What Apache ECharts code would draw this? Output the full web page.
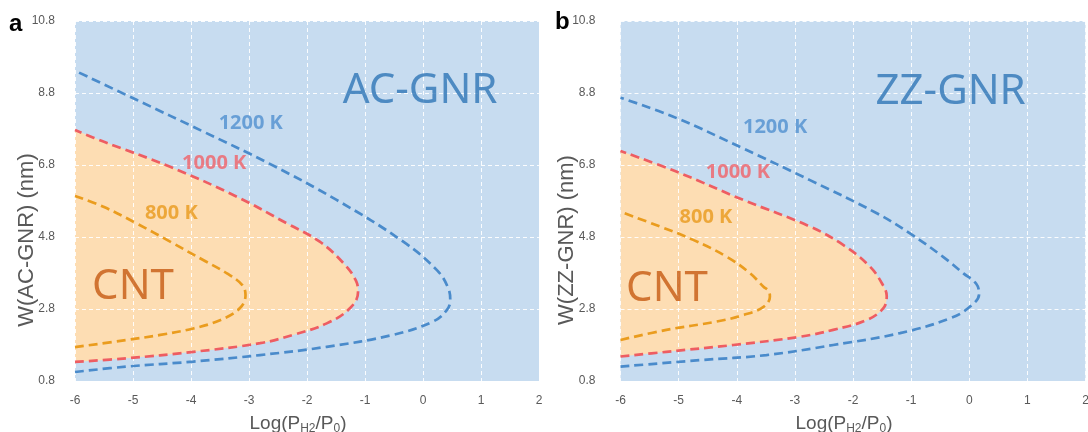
<!DOCTYPE html>
<html><head><meta charset="utf-8">
<script src="https://cdn.jsdelivr.net/npm/echarts@6/dist/echarts.min.js"></script>
<style>html,body{margin:0;padding:0;background:#fff}#c{width:1088px;height:432px}</style>
</head><body><div id="c"></div>
<script>
// ---- axis ticks ----
const xTicks = [-6, -5, -4, -3, -2, -1, 0, 1, 2];
const yTicks = [0.8, 2.8, 4.8, 6.8, 8.8, 10.8];
const tempLabels = ['800 K', '1000 K', '1200 K'];
const panelNames = ['AC-GNR', 'ZZ-GNR'];
const yTitles = ['W(AC-GNR) (nm)', 'W(ZZ-GNR) (nm)'];

// ---- panel a (AC-GNR): [logP, W] ; branches run from x=-6 to the tip ----
const ac800Lower  = [[-6, 1.74], [-5.11, 1.94], [-4.53, 2.08], [-3.96, 2.26], [-3.5, 2.49], [-3.16, 2.82], [-3.06, 3.19]];
const ac800Upper  = [[-6, 5.94], [-5.51, 5.64], [-4.94, 5.18], [-4.36, 4.67], [-3.79, 4.16], [-3.38, 3.79], [-3.12, 3.47], [-3.06, 3.19]];
const ac1000Lower = [[-6, 1.33], [-5.11, 1.43], [-3.96, 1.61], [-2.81, 1.85], [-2.24, 2.08], [-1.66, 2.40], [-1.26, 2.82], [-1.12, 3.27]];
const ac1000Upper = [[-6, 7.77], [-5.51, 7.45], [-4.36, 6.75], [-3.21, 5.92], [-2.35, 5.18], [-1.78, 4.67], [-1.37, 4.07], [-1.16, 3.6], [-1.12, 3.27]];
const ac1200Lower = [[-6, 1.05], [-5.11, 1.20], [-3.96, 1.34], [-2.81, 1.52], [-1.66, 1.75], [-0.52, 2.08], [0.17, 2.45], [0.41, 2.77], [0.47, 3.05]];
const ac1200Upper = [[-6, 9.42], [-4.94, 8.61], [-3.79, 7.73], [-2.64, 6.83], [-1.49, 5.83], [-0.34, 4.67], [0.24, 3.88], [0.43, 3.40], [0.47, 3.05]];

// ---- panel b (ZZ-GNR) ----
const zz800Lower  = [[-6, 1.94], [-5.21, 2.22], [-4.35, 2.45], [-3.89, 2.63], [-3.54, 2.86], [-3.43, 3.14]];
const zz800Upper  = [[-6, 5.50], [-5.32, 5.09], [-4.75, 4.72], [-4.17, 4.25], [-3.77, 3.79], [-3.54, 3.42], [-3.45, 3.30], [-3.43, 3.14]];
const zz1000Lower = [[-6, 1.48], [-5.21, 1.61], [-4.06, 1.80], [-2.91, 2.03], [-2.34, 2.22], [-1.77, 2.49], [-1.48, 2.82], [-1.42, 3.16]];
const zz1000Upper = [[-6, 7.19], [-5.03, 6.61], [-3.89, 5.83], [-2.74, 5.09], [-2.17, 4.58], [-1.71, 3.98], [-1.48, 3.45], [-1.42, 3.16]];
const zz1200Lower = [[-6, 1.20], [-4.63, 1.38], [-3.49, 1.52], [-2.34, 1.80], [-1.19, 2.13], [-0.33, 2.54], [0.01, 2.86], [0.17, 3.22]];
const zz1200Upper = [[-6, 8.67], [-5.03, 8.10], [-3.89, 7.26], [-2.74, 6.38], [-1.59, 5.46], [-1.02, 4.90], [-0.45, 4.25], [-0.10, 3.79], [0.12, 3.50], [0.17, 3.22]];

const C = {
  bg: '#C7DCF0', fill: '#FDDDB3',
  line: ['#EA9C1E', '#EE5D62', '#4A8BCB'],
  txt: ['#E99A1B', '#F06268', '#5090CF'],
  big: '#2E75B6', cnt: '#C55A11', axis: '#595959'
};

// full closed curve: lower branch out to the tip, then upper branch back
function fullCurve(lower, upper) { return lower.concat(upper.slice(0, -1).reverse()); }

const panels = [
  { curves: [[ac800Lower, ac800Upper], [ac1000Lower, ac1000Upper], [ac1200Lower, ac1200Upper]],
    ann: { big: [-0.05, 8.86], cnt: [-5.0, 3.42], t: [[-4.34, 5.47], [-3.60, 6.86], [-2.97, 7.95]] } },
  { curves: [[zz800Lower, zz800Upper], [zz1000Lower, zz1000Upper], [zz1200Lower, zz1200Upper]],
    ann: { big: [-0.32, 8.84], cnt: [-5.20, 3.36], t: [[-4.53, 5.34], [-3.98, 6.59], [-3.34, 7.84]] } }
];

const grids = [
  { left: 75, top: 21, width: 464, height: 360 },
  { left: 620.5, top: 21, width: 465, height: 360 }
].map(g => Object.assign(g, { show: true, backgroundColor: C.bg, borderWidth: 0, containLabel: false, outerBoundsMode: 'none' }));

const xAxes = [], yAxes = [], series = [];
const gridLine = { show: true, lineStyle: { color: 'rgba(255,255,255,0.9)', width: 1, type: [4, 3] } };

panels.forEach((p, i) => {
  xAxes.push({
    type: 'value', gridIndex: i, min: xTicks[0], max: xTicks[xTicks.length - 1], interval: 1, z: 3,
    axisLine: { show: false }, axisTick: { show: false }, splitLine: gridLine,
    axisLabel: { color: C.axis, fontSize: 12, margin: 14, fontFamily: 'Liberation Sans' },
    name: '{n|Log(P}{s|H2}{n|/P}{s|0}{n|)}', nameLocation: 'middle', nameGap: 32,
    nameTextStyle: {
      padding: [0, 18, 0, 0],
      rich: {
        n: { fontSize: 19, color: C.axis, fontFamily: 'Liberation Sans', lineHeight: 22 },
        s: { fontSize: 12, color: C.axis, fontFamily: 'Liberation Sans', lineHeight: 10, verticalAlign: 'bottom' }
      }
    }
  });
  yAxes.push({
    type: 'value', gridIndex: i, min: yTicks[0], max: yTicks[yTicks.length - 1], z: 3,
    axisLine: { show: false }, axisTick: { show: false, customValues: yTicks }, splitLine: gridLine,
    axisLabel: { color: C.axis, fontSize: 12, margin: i === 0 ? 20 : 25, fontFamily: 'Liberation Sans',
      customValues: yTicks, formatter: v => v.toFixed(1) }
  });
  const red = p.curves[1];
  // CNT region: the inside of the 1000 K curve
  series.push({ type: 'line', xAxisIndex: i, yAxisIndex: i, data: fullCurve(red[0], red[1]), smooth: 0.4, symbol: 'none',
    lineStyle: { width: 0 }, areaStyle: { color: C.fill, opacity: 1, origin: 'start' }, z: 1, silent: true });
  p.curves.forEach((c, k) => {
    series.push({ type: 'line', name: tempLabels[k], xAxisIndex: i, yAxisIndex: i, data: fullCurve(c[0], c[1]),
      smooth: 0.4, symbol: 'none', z: 5, silent: true,
      lineStyle: { color: C.line[k], width: 2.7, type: [9, 5] } });
  });
  const ann = [
    { value: p.ann.big, name: panelNames[i], label: { color: C.big, fontSize: 42, fontFamily: 'Noto Sans' } },
    { value: p.ann.cnt, name: 'CNT', label: { color: C.cnt, fontSize: 42, fontFamily: 'Noto Sans' } }
  ];
  tempLabels.forEach((t, k) => ann.push({ value: p.ann.t[k], name: t,
    label: { color: C.txt[k], fontSize: 20, fontWeight: 'bold', fontFamily: 'Open Sans' } }));
  series.push({ type: 'scatter', xAxisIndex: i, yAxisIndex: i, data: ann, symbolSize: 0, z: 6, silent: true,
    label: { show: true, position: 'inside', formatter: d => d.name } });
});

const titleStyle = { fontSize: 22, fill: C.axis, fontFamily: 'Liberation Sans', align: 'center', verticalAlign: 'middle' };
const chart = echarts.init(document.getElementById('c'), null, { renderer: 'canvas' });
chart.setOption({
  animation: false,
  grid: grids, xAxis: xAxes, yAxis: yAxes, series: series,
  graphic: [
    { type: 'text', left: 9, top: 12, style: { text: 'a', fontSize: 24, fontWeight: 'bold', fill: '#000', fontFamily: 'Liberation Sans' } },
    { type: 'text', left: 555, top: 10, style: { text: 'b', fontSize: 24, fontWeight: 'bold', fill: '#000', fontFamily: 'Liberation Sans' } },
    { type: 'text', x: 27, y: 240, rotation: Math.PI / 2, style: Object.assign({ text: yTitles[0] }, titleStyle) },
    { type: 'text', x: 567, y: 240, rotation: Math.PI / 2, style: Object.assign({ text: yTitles[1] }, titleStyle) }
  ]
});
</script></body></html>
